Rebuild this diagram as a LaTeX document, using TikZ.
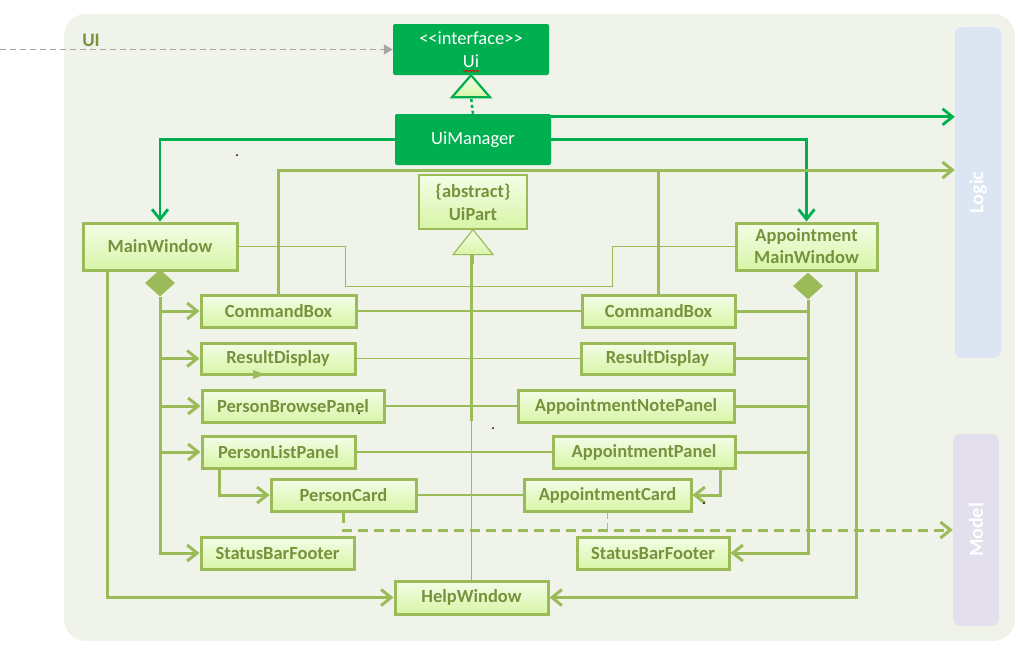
\documentclass[tikz,border=0pt]{standalone}
\usepackage{fontspec}
\setmainfont{Carlito}
\usetikzlibrary{arrows.meta,shapes.geometric,calc,decorations.pathmorphing}
\definecolor{dg}{HTML}{00B050}
\definecolor{lg}{HTML}{9BBB59}
\definecolor{bg}{HTML}{92D050}
\definecolor{ol}{HTML}{76923C}
\definecolor{panel}{HTML}{F0F3EA}
\definecolor{logicc}{HTML}{DCE6F2}
\definecolor{modelc}{HTML}{E4DFEC}
\definecolor{gr}{HTML}{A6A6A6}
\definecolor{ntop}{HTML}{F4FDE8}
\definecolor{nbot}{HTML}{D7F5A6}
\begin{document}
\begin{tikzpicture}[x=1pt,y=-1pt,
  cls/.style={draw=lg, line width=3pt, top color=ntop, bottom color=nbot, text=ol,
    font=\fontsize{18.5}{22}\selectfont\bfseries, inner sep=0pt, align=center},
  gbox/.style={fill=dg, text=white, font=\fontsize{18.5}{22}\selectfont,
    inner sep=0pt, align=center, rounded corners=2pt},
  layer/.style={rounded corners=7pt, inner sep=0pt},
  layerlbl/.style={rotate=90, text=white, font=\fontsize{20}{22}\selectfont\bfseries},
  vtip/.style={-{Straight Barb[length=10pt,width=16pt]}},
  gline/.style={draw=dg, line width=2.8pt},
  lgline/.style={draw=lg, line width=3pt},
  thinline/.style={draw=lg, line width=1.3pt},
  comp/.style={diamond, fill=lg, inner sep=0pt, minimum width=30pt, minimum height=27pt},
  tri/.style={draw=lg, line width=1.2pt, top color=ntop, bottom color=nbot},
]
\fill[white] (0,0) rectangle (1031,657);
\useasboundingbox (0,0) rectangle (1031,657);
\fill[panel, rounded corners=22pt] (64,14) rectangle (1015,641);

% layers
\node[layer, fill=logicc, minimum width=46pt, minimum height=331pt] (logic) at (978,192.5) {};
\node[layerlbl] (logiclbl) at (logic) {Logic};
\node[layer, fill=modelc, minimum width=46pt, minimum height=192pt] (model) at (976,530) {};
\node[layerlbl] (modellbl) at (model) {Model};
\node[text=ol, font=\fontsize{19}{22}\selectfont\bfseries] (uilbl) at (91,40) {UI};

% green boxes
\node[gbox, minimum width=156pt, minimum height=51pt] (ui) at (471,49.5) {<{}<interface>{}>\\[1pt]Ui};
\node[gbox, minimum width=156pt, minimum height=51pt] (uimgr) at (473,139.5) {UiManager};
\draw[red, line width=0.6pt, decorate, decoration={snake, amplitude=0.8pt, segment length=3pt}] (463,71) -- (479,71);

% classes
\node[cls, draw=lg, line width=1.2pt, minimum width=108pt, minimum height=54pt] (uipart) at (473,202) {\{abstract\}\\[1pt]UiPart};
\node[cls, minimum width=154pt, minimum height=47pt] (mw) at (160,246.5) {MainWindow};
\node[cls, minimum width=141pt, minimum height=47pt] (amw) at (806.5,246.5) {Appointment\\MainWindow};
\node[cls, minimum width=155pt, minimum height=32pt] (cbL) at (278.5,311) {CommandBox};
\node[cls, minimum width=154pt, minimum height=31pt] (rdL) at (278,358.5) {ResultDisplay};
\node[cls, minimum width=182pt, minimum height=32pt] (pbp) at (293,406) {PersonBrowsePanel};
\node[cls, minimum width=153pt, minimum height=32pt] (plp) at (278.5,452) {PersonListPanel};
\node[cls, minimum width=145pt, minimum height=32pt] (pc) at (343.5,495) {PersonCard};
\node[cls, minimum width=153pt, minimum height=32pt] (sbfL) at (277.5,553) {StatusBarFooter};
\node[cls, minimum width=153pt, minimum height=33pt] (hw) at (471.5,597.5) {HelpWindow};
\node[cls, minimum width=153pt, minimum height=32pt] (cbR) at (658.5,311) {CommandBox};
\node[cls, minimum width=153pt, minimum height=31pt] (rdR) at (657.5,358.5) {ResultDisplay};
\node[cls, minimum width=216pt, minimum height=32pt] (anp) at (626,406) {AppointmentNotePanel};
\node[cls, minimum width=182pt, minimum height=32pt] (ap) at (644,452) {AppointmentPanel};
\node[cls, minimum width=167pt, minimum height=32pt] (ac) at (607.5,495) {AppointmentCard};
\node[cls, minimum width=152pt, minimum height=32pt] (sbfR) at (653,553) {StatusBarFooter};

% composition diamonds
\node[comp] (dL) at (160,283) {};
\node[comp] (dR) at (808,286) {};

% external dashed arrow into Ui
\coordinate (ext) at (0,49.5);
\draw[gr, line width=1.5pt, dash pattern=on 6pt off 4pt, -{Triangle[length=9pt,width=10pt]}] (ext) -- (ui.west);

% realisation Ui <- UiManager
\draw[dg, line width=2.5pt, dash pattern=on 3pt off 3pt] (uimgr.north) -- ([yshift=-22pt]ui.south);
\draw[draw=dg, line width=2.2pt, top color=ntop, bottom color=nbot] (ui.south) -- ++(-19,22) -- ++(38,0) -- cycle;

% UiManager associations
\draw[gline, vtip] ([yshift=-3pt]uimgr.north east) -- ([yshift=-3pt]uimgr.north east -| logic.west);
\draw[gline, vtip] (uimgr.east) -| (amw.north);
\draw[gline, vtip] (uimgr.west) -| (mw.north);

% CommandBoxes depend on Logic
\coordinate (lgy) at (0,170);
\draw[lgline, vtip] (cbL.north) |- (logic.west |- lgy);
\draw[lgline] (cbR.north) -- (cbR.north |- lgy);

% inheritance from UiPart
\coordinate (tb) at ([yshift=-25pt]uipart.south);
\draw[thinline] (mw.east) -- ++(107,0) -- ++(0,40) -| ([xshift=-122pt]amw.west) -- (amw.west);
\draw[thinline] (cbL.east) -- (cbR.west);
\draw[thinline] (rdL.east) -- (rdR.west);
\draw[thinline] (pbp.east) -- (anp.west);
\draw[thinline] (plp.east) -- (ap.west);
\draw[thinline] (pc.east) -- (ac.west);
\draw[lgline] ([xshift=-1.5pt]tb) -- ++(0,166) coordinate (tm);
\draw[thinline] (tm) -- (tm |- hw.north);
\draw[tri] (uipart.south) -- ++(-20,25) -- ++(40,0) -- cycle;
\draw[thinline] ([yshift=-9pt]tb) -- (tb);

% MainWindow composition
\draw[lgline, vtip] (dL.south) |- (sbfL.west);
\draw[lgline, vtip] (dL.south |- cbL.west) -- (cbL.west);
\draw[lgline, vtip] (dL.south |- rdL.west) -- (rdL.west);
\draw[lgline, vtip] (dL.south |- pbp.west) -- (pbp.west);
\draw[lgline, vtip] (dL.south |- plp.west) -- (plp.west);
\draw[lgline, vtip] ([xshift=26pt]mw.south west) |- (hw.west);
\draw[lgline, vtip] ([xshift=19pt]plp.south west) |- (pc.west);

% AppointmentMainWindow composition
\draw[lgline, vtip] (dR.south) |- (sbfR.east);
\draw[lgline] (cbR.east) -- (cbR.east -| dR.south);
\draw[lgline] (rdR.east) -- (rdR.east -| dR.south);
\draw[lgline] (anp.east) -- (anp.east -| dR.south);
\draw[lgline] (ap.east) -- (ap.east -| dR.south);
\draw[lgline, vtip] ([xshift=-22pt]amw.south east) |- (hw.east);
\draw[lgline, vtip] ([xshift=-16pt]ap.south east) |- (ac.east);

% dependencies on Model
\draw[lgline, dash pattern=on 10pt off 6pt, vtip] (pc.south) |- (model.west);
\draw[bg, line width=1.8pt, dash pattern=on 6pt off 4pt] (ac.south) -- (ac.south |- model.west);

% small marks
\fill[lg] (253,370) -- (265,374.5) -- (253,379) -- cycle;
\fill[black] (237,155) circle (1pt) (359,413) circle (1pt) (493,428) circle (1pt) (704,503) circle (1pt);
\end{tikzpicture}
\end{document}
